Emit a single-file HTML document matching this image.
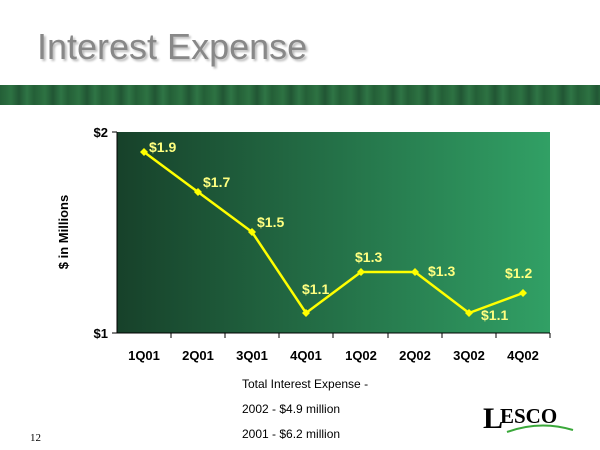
<!DOCTYPE html>
<html><head><meta charset="utf-8"><style>
body{margin:0;width:600px;height:450px;background:#fff;position:relative;overflow:hidden;font-family:"Liberation Sans",Arial,sans-serif}
.t{position:absolute;left:37px;top:26px;font-size:36px;color:#888;text-shadow:2px 2px 2px #bbb}
.band{position:absolute;left:0;top:85px;width:600px;height:20px;background:repeating-linear-gradient(90deg,#245f37 0,#2d7242 11px,#215634 19px,#2f7545 27px,#245f37 34px)}
</style></head><body>
<div class="t">Interest Expense</div>
<div class="band"></div>
<svg width="600" height="450" style="position:absolute;left:0;top:0" font-family="Liberation Sans,Arial,sans-serif">
<defs><linearGradient id="g" x1="0" x2="1" y1="0" y2="0"><stop offset="0" stop-color="#17412a"/><stop offset="1" stop-color="#31a065"/></linearGradient></defs>
<rect x="117" y="132" width="433" height="201" fill="url(#g)"/>
<line x1="117" y1="132" x2="117" y2="333" stroke="#000"/>
<line x1="117" y1="333" x2="550" y2="333" stroke="#000"/>
<g stroke="#000"><line x1="112" y1="132" x2="117" y2="132"/><line x1="112" y1="333" x2="117" y2="333"/>
<line x1="171" y1="333" x2="171" y2="338"/><line x1="225" y1="333" x2="225" y2="338"/><line x1="279" y1="333" x2="279" y2="338"/><line x1="333" y1="333" x2="333" y2="338"/><line x1="388" y1="333" x2="388" y2="338"/><line x1="442" y1="333" x2="442" y2="338"/><line x1="496" y1="333" x2="496" y2="338"/><line x1="550" y1="333" x2="550" y2="338"/></g>
<g font-size="13" font-weight="bold" text-anchor="end"><text x="108" y="137">$2</text><text x="108" y="338">$1</text></g>
<text transform="translate(68,232) rotate(-90)" font-size="13" font-weight="bold" text-anchor="middle">$ in Millions</text>
<g font-size="13" font-weight="bold" text-anchor="middle"><text x="144" y="360">1Q01</text><text x="198" y="360">2Q01</text><text x="252" y="360">3Q01</text><text x="306" y="360">4Q01</text><text x="361" y="360">1Q02</text><text x="415" y="360">2Q02</text><text x="469" y="360">3Q02</text><text x="523" y="360">4Q02</text></g>
<polyline points="144,152 198,192 252,232 306,313 361,272 415,272 469,313 523,293" fill="none" stroke="#ffff00" stroke-width="2.5"/>
<g fill="#ffff00"><path d="M144,148l4,4-4,4-4-4z"/><path d="M198,188l4,4-4,4-4-4z"/><path d="M252,228l4,4-4,4-4-4z"/><path d="M306,309l4,4-4,4-4-4z"/><path d="M361,268l4,4-4,4-4-4z"/><path d="M415,268l4,4-4,4-4-4z"/><path d="M469,309l4,4-4,4-4-4z"/><path d="M523,289l4,4-4,4-4-4z"/></g>
<g font-size="14" font-weight="bold" fill="#ffff80"><text x="149" y="152">$1.9</text><text x="203" y="187">$1.7</text><text x="257" y="227">$1.5</text><text x="302" y="294">$1.1</text><text x="355" y="262">$1.3</text><text x="428" y="276">$1.3</text><text x="481" y="320">$1.1</text><text x="505" y="278">$1.2</text></g>
<g font-size="12"><text x="242" y="388">Total Interest Expense -</text><text x="242" y="413">2002 - $4.9 million</text><text x="242" y="438">2001 - $6.2 million</text></g>
<text x="30" y="441" font-size="11" font-family="Liberation Serif,serif">12</text>
<text x="483" y="428" font-size="30" font-weight="bold" font-family="Liberation Serif,serif">L</text>
<text x="500" y="423" font-size="21" font-weight="bold" font-family="Liberation Serif,serif">ESCO</text>
<path d="M507,432 Q540,420 573,430" stroke="#3aa83a" stroke-width="2" fill="none"/>
</svg>
</body></html>
